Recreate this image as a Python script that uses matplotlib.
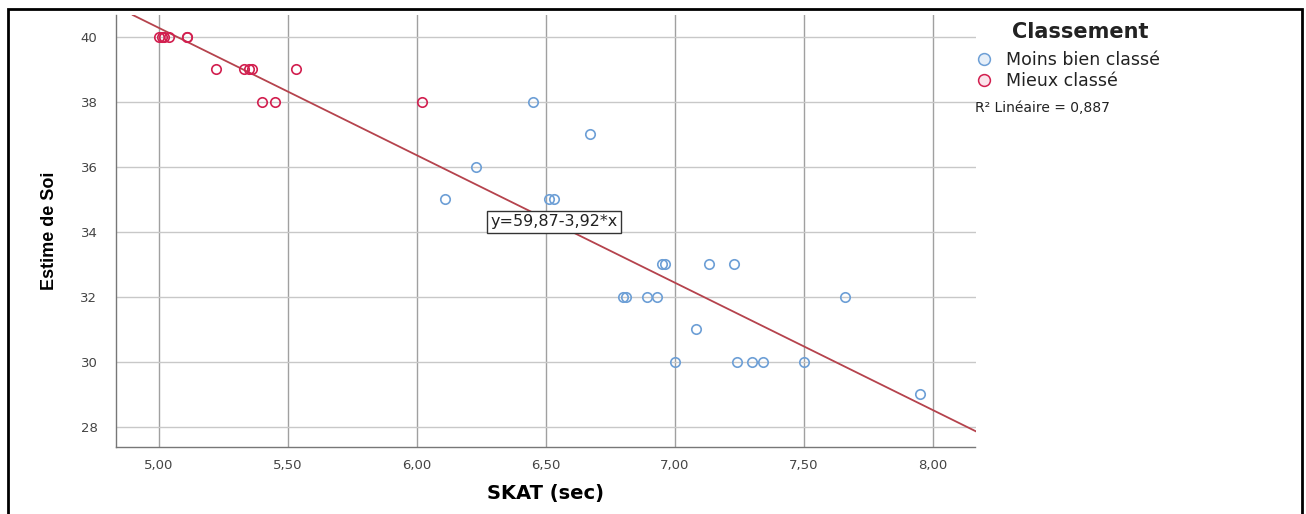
import matplotlib
matplotlib.use('Agg')
import matplotlib.pyplot as plt
from matplotlib.lines import Line2D
from matplotlib.patches import Rectangle
from matplotlib.ticker import FuncFormatter, MultipleLocator
from matplotlib import font_manager

# data
mieux_x = [5.00, 5.01, 5.02, 5.04, 5.11, 5.11, 5.22, 5.33, 5.35, 5.36, 5.53, 5.40, 5.45, 6.02]
mieux_y = [40, 40, 40, 40, 40, 40, 39, 39, 39, 39, 39, 38, 38, 38]

moins_x = [6.45, 6.67, 6.23, 6.11, 6.51, 6.53, 6.95, 6.96, 7.13, 7.23, 6.80, 6.81,
           6.89, 6.93, 7.66, 7.08, 7.00, 7.24, 7.30, 7.34, 7.50, 7.95]
moins_y = [38, 37, 36, 35, 35, 35, 33, 33, 33, 33, 32, 32,
           32, 32, 32, 31, 30, 30, 30, 30, 30, 29]

intercept = 59.87
slope = -3.92
r2 = 0.887
eq_label = 'y=59,87-3,92*x'
eq_pos = (6.53, 34.3)

legend_title = 'Classement'
labels = ['Moins bien classé', 'Mieux classé']

blue = '#6d9fd6'
red = '#d21f4f'
line_col = '#b5434d'

W, H = 1306, 514
fig = plt.figure(figsize=(W / 100, H / 100), dpi=100)
fig.patch.set_facecolor('white')
ax = fig.add_axes([115.5 / W, (H - 447) / H, 860 / W, 432 / H])

ax.set_xlim(4.831, 8.165)
ax.set_ylim(27.375, 40.67)
ax.xaxis.set_major_locator(MultipleLocator(0.5))
ax.yaxis.set_major_locator(MultipleLocator(2))
ax.xaxis.set_major_formatter(FuncFormatter(lambda v, p: f'{v:.2f}'.replace('.', ',')))
ax.yaxis.set_major_formatter(FuncFormatter(lambda v, p: f'{v:.0f}'))

for x in ax.get_xticks():
    ax.axvline(x, color='#a0a0a0', lw=1, zorder=0)
for y in ax.get_yticks():
    ax.axhline(y, color='#c8c8c8', lw=1, zorder=0)

for s in ['top', 'right']:
    ax.spines[s].set_visible(False)
for s in ['left', 'bottom']:
    ax.spines[s].set_color('#777777')
    ax.spines[s].set_linewidth(1)

ax.tick_params(length=0, labelsize=9.5, labelcolor='#444444')
ax.tick_params(axis='y', pad=13)
ax.tick_params(axis='x', pad=9)

ax.axline((0, intercept), slope=slope, color=line_col, lw=1.3, zorder=2)

ax.plot(moins_x, moins_y, 'o', ms=6.8, mfc='none', mec=blue, mew=1.2, zorder=3)
ax.plot(mieux_x, mieux_y, 'o', ms=6.8, mfc='none', mec=red, mew=1.2, zorder=3)

ax.text(eq_pos[0], eq_pos[1], eq_label, ha='center', va='center', fontsize=11.5,
        color='#222222', zorder=4,
        bbox=dict(boxstyle='square,pad=0.22', fc='white', ec='#333333', lw=1))

names = {f.name for f in font_manager.fontManager.ttflist}
if 'Liberation Sans Narrow' in names:
    ylab_font = dict(family='Liberation Sans Narrow', size=15.5, weight='bold')
else:
    ylab_font = dict(family='Liberation Sans', size=13, weight='bold')
ax.set_ylabel('Estime de Soi', va='center', **ylab_font)
ax.yaxis.set_label_coords((50 - 115.5) / 860, 0.5)
ax.set_xlabel('SKAT (sec)', fontsize=14, fontweight='bold', va='center')
ax.xaxis.set_label_coords(0.5, (447 - 494) / 432)

# legend: title as separate text, entries below it
fig.text(1080 / W, (H - 32.5) / H, legend_title, fontsize=15, fontweight='bold',
         ha='center', va='center', color='#222222')
handles = [
    Line2D([], [], ls='', marker='o', ms=8.5, mfc='#e6eff9', mec=blue, mew=1.1),
    Line2D([], [], ls='', marker='o', ms=8.5, mfc='#fbe4eb', mec=red, mew=1.1),
]
leg = fig.legend(handles, labels, loc='center left',
                 bbox_to_anchor=(977 / W, (H - 70.5) / H), frameon=False,
                 fontsize=12.5, borderpad=0, borderaxespad=0, handlelength=0.8,
                 handletextpad=0.85, labelspacing=0.22)
for t in leg.get_texts():
    t.set_color('#222222')

fig.text(975 / W, (H - 108) / H, f'R² Linéaire = {r2:.3f}'.replace('.', ','),
         fontsize=10, va='center', ha='left', color='#222222')

fig.add_artist(Rectangle((8 / W, -0.02), (1302 - 8) / W, (H - 9) / H + 0.02,
                         transform=fig.transFigure, fill=False, ec='black', lw=2))

fig.savefig('out.png', dpi=100)
